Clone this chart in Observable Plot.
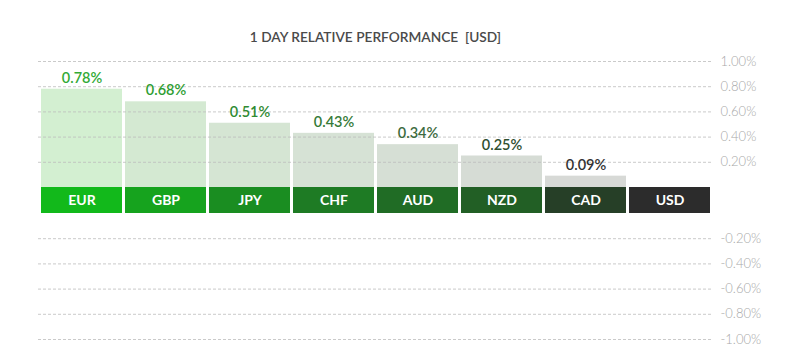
<!DOCTYPE html>
<html>
<head>
<meta charset="utf-8">
<script src="https://cdn.jsdelivr.net/npm/d3@7"></script>
<script src="https://cdn.jsdelivr.net/npm/@observablehq/plot@0.6"></script>
<style>
  html, body { margin: 0; padding: 0; background: #fff; }
  #title {
    box-sizing: border-box;
    width: 713px; height: 50px;
    padding: 27px 0 0 38px;
    text-align: center;
    font-family: Lato, "Open Sans", sans-serif;
    font-weight: 600; font-size: 13.7px; line-height: 20px;
    color: #4a4a4a; white-space: pre;
  }
  #chart svg { display: block; }
</style>
</head>
<body>
<div id="title">1 DAY RELATIVE PERFORMANCE  [USD]</div>
<div id="chart"></div>
<script>
const currencies = ["EUR", "GBP", "JPY", "CHF", "AUD", "NZD", "CAD", "USD"];
const values = [0.78, 0.68, 0.51, 0.43, 0.34, 0.25, 0.09, 0];
const labels = ["0.78%", "0.68%", "0.51%", "0.43%", "0.34%", "0.25%", "0.09%", ""];
const barFill = ["#d3efd1", "#d4e9d2", "#d5e5d3", "#d6e2d5", "#d6dfd5", "#d6dcd5", "#d7d9d6", "#d7d7d7"];
const bandFill = ["#12b91b", "#16a31e", "#1a8d21", "#1e7b24", "#206c25", "#225f25", "#263f27", "#2c2c2c"];
const labelColor = ["#33aa36", "#2f9e33", "#308b32", "#367b38", "#3c6b3e", "#2f5030", "#333333", "#333333"];
const yTicks = [-1, -0.8, -0.6, -0.4, -0.2, 0.2, 0.4, 0.6, 0.8, 1];

const data = currencies.map((c, i) => ({
  cur: c, value: values[i], label: labels[i],
  fill: barFill[i], band: bandFill[i], color: labelColor[i]
}));

const width = 800, height = 304;
const marginTop = 11, marginBottom = 15, marginLeft = 38, marginRight = 87;
const bandH = 26;
const half = (height - marginTop - marginBottom - bandH) / 2;
const yRange = [height - marginBottom, height - marginBottom - half, marginTop + half, marginTop];

const chart = Plot.plot({
  width, height, marginTop, marginBottom, marginLeft, marginRight,
  style: { fontFamily: "Lato, 'Open Sans', sans-serif", background: "#fff" },
  x: { type: "band", domain: currencies, paddingInner: 0.03, paddingOuter: 0, axis: null },
  y: { type: "linear", domain: [-1, 0, 0, 1], range: yRange, axis: null, label: null },
  marks: [
    Plot.barY(data, { x: "cur", y1: 0, y2: "value", fill: d => d.fill }),
    Plot.gridY(yTicks, { stroke: "#bdbdbd", strokeOpacity: 1, strokeDasharray: "3,2", strokeWidth: 0.8 }),
    Plot.barY(data, { x: "cur", y1: 0, y2: 0, insetBottom: -bandH, fill: d => d.band }),
    Plot.text(data, { x: "cur", y: 0, dy: bandH / 2, text: "cur", fill: "#fff",
      fontWeight: 700, fontSize: 14 }),
    Plot.text(data, { x: "cur", y: "value", dy: -11, text: "label", fill: d => d.color,
      fontWeight: 600, fontSize: 14.5 }),
    Plot.axisY(yTicks, { anchor: "right", tickSize: 0, tickPadding: 7, label: null,
      tickFormat: d => d.toFixed(2) + "%", fill: "#a8a8a8", fontSize: 13, fontWeight: 300 })
  ]
});
document.getElementById("chart").appendChild(chart);
</script>
</body>
</html>
